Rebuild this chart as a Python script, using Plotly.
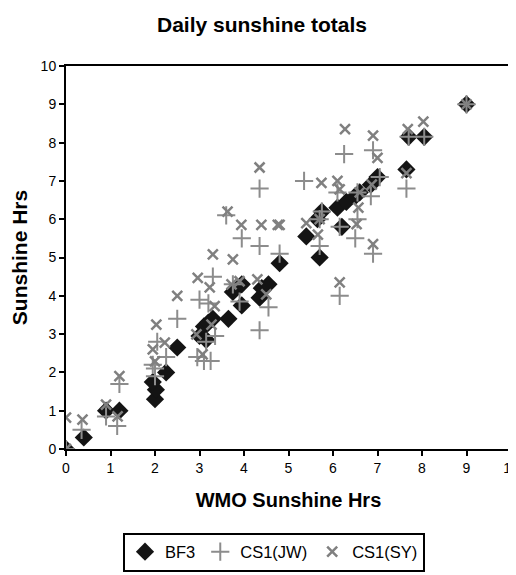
import plotly.graph_objects as go

# BF3 (diamonds)
bf3_x = [0, 0.4, 0.9, 1.2, 2.0, 2.02, 1.95, 2.25, 2.5, 3.0, 3.1, 3.2, 3.3, 3.15, 3.65, 3.75, 3.95, 3.95,
         4.35, 4.4, 4.55, 4.8, 5.4, 5.7, 5.65, 5.75, 6.1, 6.2, 6.3, 6.5, 6.6, 6.85, 7.0, 7.65, 7.7, 8.05, 9.0]
bf3_y = [0, 0.3, 1.0, 1.0, 1.3, 1.55, 1.75, 2.0, 2.65, 2.95, 3.2, 3.3, 3.4, 2.85, 3.4, 4.1, 4.3, 3.75,
         3.95, 4.2, 4.3, 4.85, 5.55, 5.0, 6.0, 6.2, 6.3, 5.8, 6.45, 6.6, 6.7, 6.9, 7.1, 7.3, 8.15, 8.15, 9.0]

# CS1(JW) (plus)
jw_x = [0, 0.35, 0.9, 1.15, 1.2, 2.0, 2.0, 1.95, 2.05, 2.25, 2.5, 2.95, 3.1, 3.25, 3.0, 3.3, 3.2, 3.35,
        3.15, 3.9, 3.75, 4.35, 4.55, 3.6, 3.95, 4.35, 4.35, 4.8, 5.35, 6.25, 6.9, 5.7, 5.75, 5.7, 6.1,
        6.15, 6.55, 6.5, 6.9, 6.55, 6.85, 7.05, 7.65, 7.7, 8.05, 9.0, 6.15]
jw_y = [0, 0.5, 0.85, 0.6, 1.7, 1.9, 2.1, 2.2, 2.8, 2.4, 3.4, 2.4, 2.3, 2.3, 3.9, 4.5, 3.8, 2.95,
        2.8, 3.85, 4.3, 3.1, 3.7, 6.1, 5.5, 6.8, 5.3, 5.1, 7.0, 7.7, 7.8, 5.3, 6.2, 6.0, 6.7,
        5.8, 6.0, 5.5, 5.1, 6.7, 6.6, 7.1, 6.8, 8.15, 8.15, 9.0, 4.0]

# CS1(SY) (x)
sy_x = [0, 0.37, 0.9, 1.2, 1.16, 2.03, 1.95, 2.0, 2.22, 2.5, 2.96, 2.93, 3.07, 3.23, 3.27, 3.34, 3.72,
        3.9, 4.3, 4.5, 3.75, 4.35, 3.63, 3.94, 4.39, 4.76, 3.3, 6.27, 6.9, 7.0, 8.03, 7.68, 7.65, 5.74,
        6.1, 4.8, 5.4, 5.7, 6.87, 6.6, 6.57, 6.53, 5.66, 6.9, 6.15, 6.15, 9.0, 0]
sy_y = [0.82, 0.77, 1.16, 1.9, 0.85, 3.25, 2.6, 2.29, 2.78, 4.0, 4.47, 2.99, 2.47, 4.22, 3.25, 3.73, 4.3,
        4.38, 4.43, 4.04, 4.95, 7.35, 6.2, 5.85, 5.85, 5.85, 5.08, 8.35, 8.18, 7.6, 8.55, 8.35, 7.2, 6.95,
        7.0, 5.85, 5.9, 6.0, 6.9, 6.7, 6.3, 5.87, 5.6, 5.35, 4.35, 6.78, 9.0, 0]

ticks = list(range(0, 11))
FONT = "Liberation Sans, Arial, sans-serif"

# the page has an 8px body margin, so the figure is drawn 8px in from the window corner
OFF = 8
W, H = 516 - OFF, 575 - OFF

fig = go.Figure()
fig.add_trace(go.Scatter(x=bf3_x, y=bf3_y, mode="markers", name="BF3",
                         marker=dict(symbol="diamond", size=14, color="#141414",
                                     line=dict(width=0))))
fig.add_trace(go.Scatter(x=jw_x, y=jw_y, mode="markers", name="CS1(JW)",
                         marker=dict(symbol="cross-thin-open", size=13, color="#8c8c8c",
                                     line=dict(width=2, color="#8c8c8c"))))
fig.add_trace(go.Scatter(x=sy_x, y=sy_y, mode="markers", name="CS1(SY)",
                         marker=dict(symbol="x-thin-open", size=10, color="#808080",
                                     line=dict(width=2.5, color="#808080"))))

axis_common = dict(range=[0, 10], tickvals=ticks, ticktext=[str(t) for t in ticks],
                   showgrid=False, zeroline=False, showline=True, linecolor="black",
                   linewidth=2, mirror=True, ticks="outside", ticklen=5, tickwidth=2,
                   tickcolor="black", automargin=False,
                   tickfont=dict(family=FONT, size=14, color="black"))

fig.update_layout(
    width=W, height=H,
    paper_bgcolor="white", plot_bgcolor="white",
    margin=dict(l=66 - OFF, r=5, t=66 - OFF, b=H - (449 - OFF)),
    title=dict(text="<b>Daily sunshine totals</b>", x=(262 - OFF) / W, xref="container",
               xanchor="center", y=1 - (25 - OFF) / H, yref="container", yanchor="middle",
               font=dict(family=FONT, size=21, color="black")),
    xaxis=dict(**axis_common, ticklabeloverflow="allow",
               title=dict(text="<b>WMO Sunshine Hrs</b>", standoff=18,
                          font=dict(family=FONT, size=20, color="black"))),
    yaxis=dict(**axis_common,
               title=dict(text="<b>Sunshine Hrs</b>", standoff=10,
                          font=dict(family=FONT, size=21, color="black"))),
    showlegend=True,
    legend=dict(orientation="h", x=(274 - OFF) / W, xref="container", xanchor="center",
                y=1 - (552 - OFF) / H, yref="container", yanchor="middle",
                bordercolor="black", borderwidth=2, bgcolor="white",
                font=dict(family=FONT, size=16.5, color="black"),
                itemwidth=30, tracegroupgap=0),
)

fig.write_html("out.html")
